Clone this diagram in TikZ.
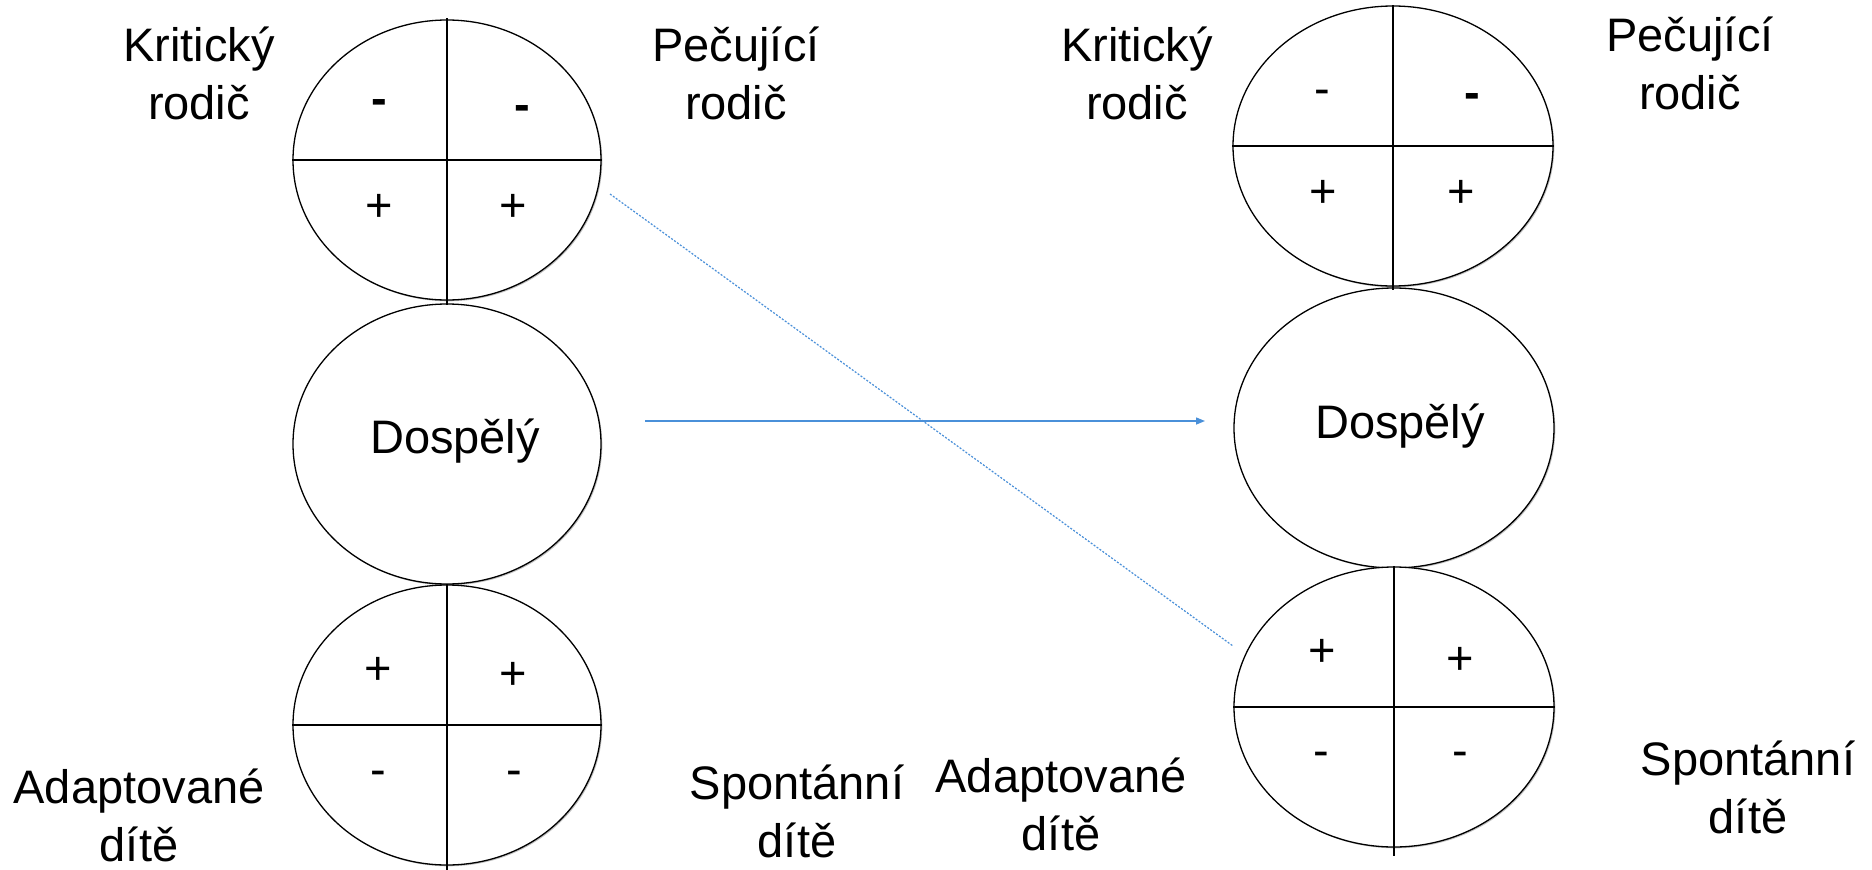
\documentclass[tikz,border=0pt]{standalone}
\usepackage{fontspec}
\setmainfont{Liberation Sans}
\usetikzlibrary{shapes.geometric,arrows.meta,shadows}
\definecolor{linkblue}{RGB}{74,144,217}
\begin{document}
\begin{tikzpicture}[x=1pt,y=-1pt,
  ego/.style={ellipse, draw=black, line width=1.3pt, fill=white, inner sep=0pt,
    drop shadow={shadow xshift=1.3pt, shadow yshift=-1.3pt, fill=black!40, opacity=0.6}},
  lego/.style={ego, minimum width=308pt, minimum height=280pt},
  rego/.style={ego, minimum width=320pt, minimum height=280pt},
  vdiv/.style={line width=2.2pt, black},
  hdiv/.style={line width=1.8pt, black},
  lab/.style={font=\fontsize{47}{58}\selectfont, align=center, inner sep=0pt},
  word/.style={font=\fontsize{47}{58}\selectfont, anchor=base, inner sep=0pt},
  sign/.style={font=\fontsize{47}{58}\selectfont, anchor=base, inner sep=0pt},
  bsign/.style={sign, font=\fontsize{47}{58}\selectfont\bfseries},
  link/.style={draw=linkblue, line width=1.4pt}]
\useasboundingbox (0,0) rectangle (1872,870);
\fill[white] (0,0) rectangle (1872,870);

% ellipses
\node[lego] (ltop) at (447,160) {};
\node[lego] (lmid) at (447,444) {};
\node[lego] (lbot) at (447,725) {};
\node[rego] (rtop) at (1393,146) {};
\node[rego] (rmid) at (1394,428) {};
\node[rego] (rbot) at (1394,707) {};

% dividers
\draw[hdiv] (ltop.west) -- (ltop.east);
\draw[vdiv] ([yshift=1pt]ltop.north) -- ([yshift=-4pt]ltop.south);
\draw[hdiv] (lbot.west) -- (lbot.east);
\draw[vdiv] (lbot.north) -- ([yshift=-5pt]lbot.south);
\draw[hdiv] (rtop.west) -- (rtop.east);
\draw[vdiv] (rtop.north) -- ([yshift=-3pt]rtop.south);
\draw[hdiv] (rbot.west) -- (rbot.east);
\draw[vdiv] (rbot.north) -- ([yshift=-8pt]rbot.south);

% signs, left top
\node[bsign] (s1) at (379,114) {-};
\node[bsign] (s2) at (522,120) {-};
\node[sign] (s3) at (379,221.6) {+};
\node[sign] (s4) at (513,221.6) {+};
% left bottom
\node[sign] (s5) at (378,684.6) {+};
\node[sign] (s6) at (513,689.6) {+};
\node[sign] (s7) at (378,785) {-};
\node[sign] (s8) at (514,785) {-};
% right top
\node[sign] (s9) at (1322,104) {-};
\node[bsign] (s10) at (1472,108) {-};
\node[sign] (s11) at (1323,207.6) {+};
\node[sign] (s12) at (1461,207.6) {+};
% right bottom
\node[sign] (s13) at (1322,666.6) {+};
\node[sign] (s14) at (1460,674.6) {+};
\node[sign] (s15) at (1321,766) {-};
\node[sign] (s16) at (1460,766) {-};

% Dospely texts
\node[word] (dl) at (455,453) {Dospělý};
\node[word] (dr) at (1400,438) {Dospělý};

% labels
\node[lab] (kl) at (199,79) {\strut Kritický\\\strut rodič};
\node[lab] (pl) at (736,79) {\strut Pečující\\\strut rodič};
\node[lab] (kr) at (1137,79) {\strut Kritický\\\strut rodič};
\node[lab] (pr) at (1690,68.5) {\strut Pečující\\\strut rodič};
\node[lab] (al) at (139,820.5) {\strut Adaptované\\\strut dítě};
\node[lab] (sl) at (797,816.5) {\strut Spontánní\\\strut dítě};
\node[lab] (ar) at (1061,810) {\strut Adaptované\\\strut dítě};
\node[lab] (sr) at (1748,792.5) {\strut Spontánní\\\strut dítě};

% connectors
\coordinate (a1) at (645,421);
\coordinate (a2) at (1205,421);
\coordinate (d1) at (610,194);
\coordinate (d2) at (1233,646);
\draw[link, -{Triangle[length=9pt,width=7pt]}] (a1) -- (a2);
\draw[link, line width=1.2pt, dash pattern=on 2pt off 1.6pt] (d1) -- (d2);
\end{tikzpicture}
\end{document}
